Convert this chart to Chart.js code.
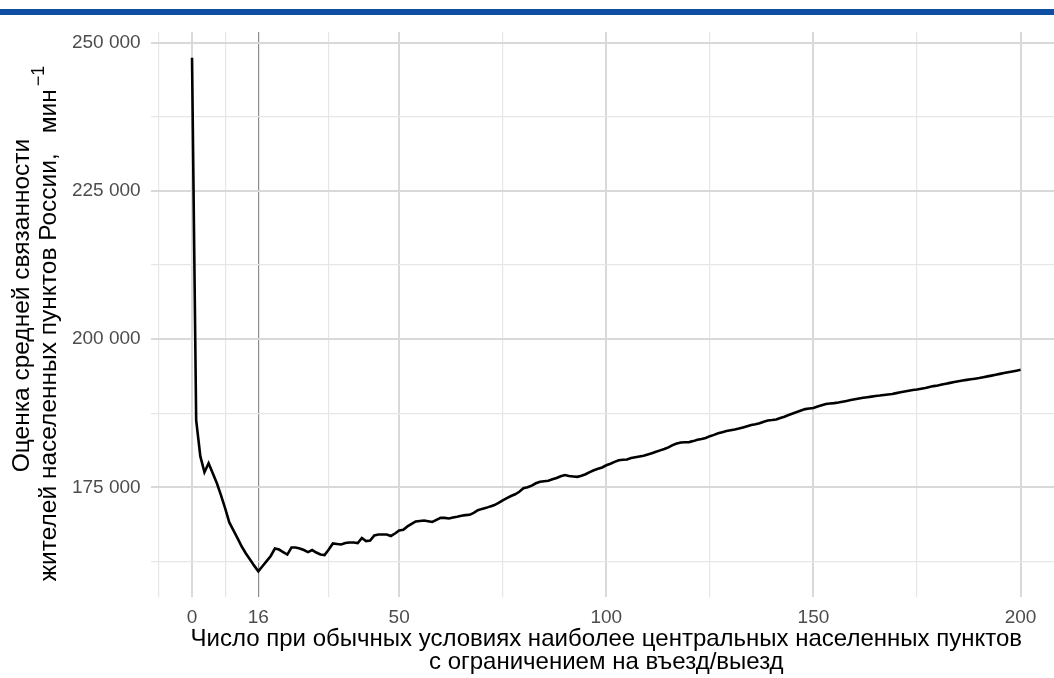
<!DOCTYPE html>
<html>
<head>
<meta charset="utf-8">
<script src="https://cdn.jsdelivr.net/npm/chart.js@4.4.1/dist/chart.umd.min.js"></script>
<style>
  html, body { margin: 0; padding: 0; background: #ffffff; overflow: hidden; }
  #wrap { position: relative; width: 1062px; height: 678px; }
</style>
</head>
<body>
<div id="wrap"><canvas id="chart"></canvas></div>
<script>
// Number of most central settlements closed for entry/exit (0..200)
const closedSettlements = Array.from({ length: 201 }, (_, i) => i);

// Estimated average connectivity of Russian settlement residents, min^-1
const connectivity = [
  247460, 186340, 180250, 177540, 179060, 177370, 175680, 173650, 171440, 169070,
  167720, 166370, 165010, 163830, 162810, 161790, 160830, 161680, 162540, 163420,
  164670, 164500, 164080, 163660, 164840, 164840, 164670, 164420, 164080, 164420,
  164000, 163660, 163570, 164500, 165520, 165430, 165350, 165600, 165690, 165690,
  165600, 166450, 165940, 166030, 166870, 167040, 167040, 167040, 166790, 167210,
  167720, 167840, 168400, 168820, 169240, 169330, 169410, 169280, 169160, 169500,
  169840, 169840, 169750, 169920, 170040, 170210, 170310, 170360, 170680, 171140,
  171360, 171530, 171780, 172000, 172380, 172800, 173170, 173530, 173820, 174240,
  174830, 175000, 175290, 175680, 175950, 176020, 176100, 176350, 176560, 176860,
  177070, 176900, 176830, 176760, 176950, 177200, 177570, 177880, 178120, 178340,
  178720, 178980, 179280, 179570, 179660, 179690, 179940, 180080, 180200, 180330,
  180540, 180760, 180990, 181230, 181450, 181740, 182110, 182380, 182550, 182590,
  182620, 182790, 183010, 183160, 183330, 183630, 183840, 184110, 184300, 184480,
  184620, 184750, 184900, 185090, 185290, 185500, 185630, 185800, 186070, 186260,
  186340, 186440, 186680, 186900, 187190, 187460, 187710, 187950, 188190, 188290,
  188370, 188610, 188830, 189050, 189140, 189200, 189290, 189420, 189560, 189710,
  189850, 189980, 190100, 190200, 190290, 190390, 190470, 190580, 190660, 190750,
  190880, 191020, 191170, 191290, 191410, 191490, 191630, 191760, 191910, 192070,
  192180, 192340, 192470, 192610, 192760, 192900, 193010, 193120, 193230, 193320,
  193420, 193570, 193710, 193840, 193980, 194130, 194270, 194400, 194540, 194670,
  194810
];

// Axis breaks and labels
const xTickValues = [0, 16, 50, 100, 150, 200];
const xTickLabels = ['0', '16', '50', '100', '150', '200'];
const xMinorValues = [-8, 8, 33, 75, 125, 175];
const yTickValues = [175000, 200000, 225000, 250000];
const yTickLabels = ['175 000', '200 000', '225 000', '250 000'];
const yMinorValues = [162500, 187500, 212500, 237500];

// Highlighted optimum
const optimumCount = 16;

// Titles
const xTitleLines = [
  'Число при обычных условиях наиболее центральных населенных пунктов',
  'с ограничением на въезд/выезд'
];
const yTitleLine1 = 'Оценка средней связанности';
const yTitleLine2 = 'жителей населенных пунктов России,';
const yTitleUnit = 'мин';
const yTitleSup = '\u22121';

const FONT = '"Liberation Sans", Arial, Helvetica, sans-serif';
const TITLE_SIZE = 24;
const Y_TITLE_SIZE = 24.5;
const SUP_SIZE = 18;
const TICK_SIZE = 19;

// 5% padding on both ends of each axis
const xMinData = Math.min(...closedSettlements), xMaxData = Math.max(...closedSettlements);
const yMinData = Math.min(...connectivity), yMaxData = Math.max(...connectivity);
const xPad = (xMaxData - xMinData) * 0.05;
const yPad = (yMaxData - yMinData) * 0.05;

const points = closedSettlements.map((x, i) => ({ x: x, y: connectivity[i] }));

const frame = {
  id: 'frame',
  beforeDraw(chart) {
    const ctx = chart.ctx;
    ctx.save();
    ctx.fillStyle = '#ffffff';
    ctx.fillRect(0, 0, chart.width, chart.height);
    ctx.fillStyle = '#0f4fa3';
    ctx.fillRect(0, 9, chart.width, 6);
    ctx.restore();
  },
  afterDraw(chart) {
    const ctx = chart.ctx;
    const area = chart.chartArea;
    ctx.save();
    ctx.fillStyle = '#000000';
    // x-axis title
    ctx.font = TITLE_SIZE + 'px ' + FONT;
    ctx.textAlign = 'center';
    ctx.textBaseline = 'alphabetic';
    const cx = (area.left + area.right) / 2;
    ctx.fillText(xTitleLines[0], cx, 646);
    ctx.fillText(xTitleLines[1], cx, 669);

    // y-axis title, rotated; second line carries the unit with a superscript
    const cy = (area.top + area.bottom) / 2;
    ctx.translate(0, cy);
    ctx.rotate(-Math.PI / 2);
    ctx.font = Y_TITLE_SIZE + 'px ' + FONT;
    ctx.textAlign = 'center';
    ctx.fillText(yTitleLine1, 9, 29);

    ctx.textAlign = 'left';
    const wMain = ctx.measureText(yTitleLine2).width;
    const wUnit = ctx.measureText(yTitleUnit).width;
    const gap = 20;
    ctx.font = SUP_SIZE + 'px ' + FONT;
    const wSup = ctx.measureText(yTitleSup).width;
    const total = wMain + gap + wUnit + 3 + wSup;
    const start = -total / 2 - 9;
    ctx.font = Y_TITLE_SIZE + 'px ' + FONT;
    ctx.fillText(yTitleLine2, start, 56);
    ctx.fillText(yTitleUnit, start + wMain + gap, 56);
    ctx.font = SUP_SIZE + 'px ' + FONT;
    ctx.fillText(yTitleSup, start + wMain + gap + wUnit + 3, 44);
    ctx.restore();
  }
};

function gridStyle(value, majors, highlight) {
  if (highlight !== undefined && value === highlight) return { c: '#8c8c8c', w: 1.2 };
  if (majors.includes(value)) return { c: '#d9d9d9', w: 2 };
  return { c: '#e6e6e6', w: 1.2 };
}

new Chart(document.getElementById('chart'), {
  type: 'line',
  data: {
    datasets: [{
      data: points,
      borderColor: '#000000',
      borderWidth: 2.6,
      pointRadius: 0,
      tension: 0,
      fill: false
    }]
  },
  options: {
    responsive: true,
    maintainAspectRatio: false,
    animation: false,
    events: [],
    layout: { padding: { top: 32, left: 0, right: 0, bottom: 0 } },
    plugins: { legend: { display: false }, tooltip: { enabled: false } },
    scales: {
      x: {
        type: 'linear',
        min: xMinData - xPad,
        max: xMaxData + xPad,
        afterBuildTicks(scale) {
          scale.ticks = [...xMinorValues, ...xTickValues].sort((a, b) => a - b).map(v => ({ value: v }));
        },
        afterFit(scale) { scale.height = 81; },
        border: { display: false },
        grid: {
          drawTicks: false,
          color: c => gridStyle(c.tick.value, xTickValues, optimumCount).c,
          lineWidth: c => gridStyle(c.tick.value, xTickValues, optimumCount).w
        },
        ticks: {
          autoSkip: false,
          maxRotation: 0,
          padding: 9,
          color: '#4d4d4d',
          font: { family: FONT, size: TICK_SIZE },
          callback: v => { const i = xTickValues.indexOf(v); return i >= 0 ? xTickLabels[i] : ''; }
        }
      },
      y: {
        type: 'linear',
        min: yMinData - yPad,
        max: yMaxData + yPad,
        afterBuildTicks(scale) {
          scale.ticks = [...yMinorValues, ...yTickValues].sort((a, b) => a - b).map(v => ({ value: v }));
        },
        afterFit(scale) { scale.width = 150.6; },
        border: { display: false },
        grid: {
          drawTicks: false,
          color: c => gridStyle(c.tick.value, yTickValues).c,
          lineWidth: c => gridStyle(c.tick.value, yTickValues).w
        },
        ticks: {
          autoSkip: false,
          padding: 10,
          color: '#4d4d4d',
          font: { family: FONT, size: TICK_SIZE },
          callback: v => { const i = yTickValues.indexOf(v); return i >= 0 ? yTickLabels[i] : ''; }
        }
      }
    }
  },
  plugins: [frame]
});
</script>
</body>
</html>
